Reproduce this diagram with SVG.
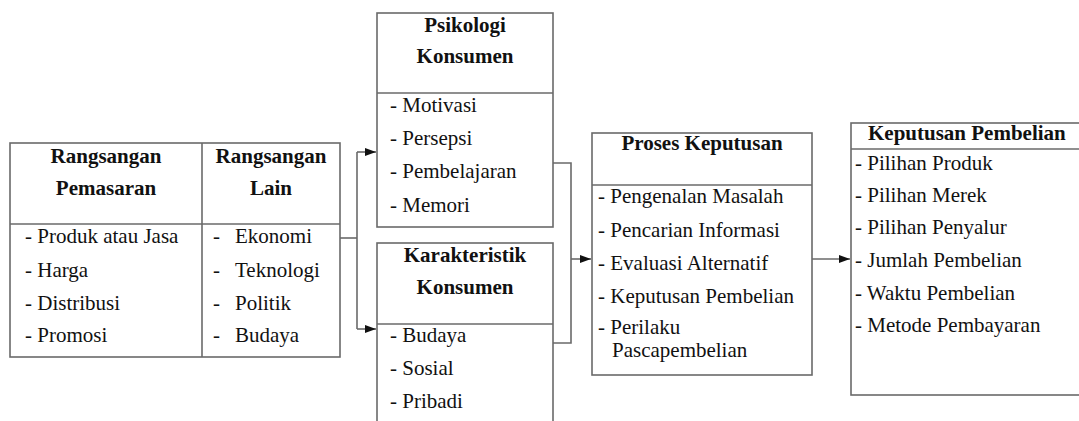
<svg xmlns="http://www.w3.org/2000/svg" width="1079" height="421" viewBox="0 0 1079 421">
<style>
.box{fill:#fff;stroke:#6a6a6a;stroke-width:1.6}
.ln{fill:none;stroke:#6a6a6a;stroke-width:1.6}
.t{font-family:"Liberation Serif","Times New Roman",serif;font-size:21px;fill:#111}
.b{font-weight:bold}
.c{text-anchor:middle}
</style>
<defs>
<marker id="arr" markerWidth="12" markerHeight="8" refX="11" refY="4" orient="auto" markerUnits="userSpaceOnUse">
<path d="M0,0 L11,4 L0,8 Z" fill="#111"/>
</marker>
</defs>
<rect width="1079" height="421" fill="#fff"/>
<g id="rangsangan">
<rect class="box" x="10" y="143" width="330" height="214"/>
<line class="ln" x1="202" y1="143" x2="202" y2="357"/>
<line class="ln" x1="10" y1="224" x2="340" y2="224"/>
<text class="t b c" x="106" y="163">Rangsangan</text>
<text class="t b c" x="106" y="195">Pemasaran</text>
<text class="t b c" x="271" y="163">Rangsangan</text>
<text class="t b c" x="271" y="195">Lain</text>
<text class="t" x="25" y="243">- Produk atau Jasa</text>
<text class="t" x="25" y="276.5">- Harga</text>
<text class="t" x="25" y="310">- Distribusi</text>
<text class="t" x="25" y="342">- Promosi</text>
<text class="t" y="243"><tspan x="213">-</tspan><tspan x="235">Ekonomi</tspan></text>
<text class="t" y="276.5"><tspan x="213">-</tspan><tspan x="235">Teknologi</tspan></text>
<text class="t" y="310"><tspan x="213">-</tspan><tspan x="235">Politik</tspan></text>
<text class="t" y="342"><tspan x="213">-</tspan><tspan x="235">Budaya</tspan></text>
</g>
<g id="psikologi">
<rect class="box" x="377" y="13" width="176" height="214"/>
<line class="ln" x1="377" y1="93" x2="553" y2="93"/>
<text class="t b c" x="465" y="32">Psikologi</text>
<text class="t b c" x="465" y="63">Konsumen</text>
<text class="t" x="390" y="112">- Motivasi</text>
<text class="t" x="390" y="145">- Persepsi</text>
<text class="t" x="390" y="178">- Pembelajaran</text>
<text class="t" x="390" y="212">- Memori</text>
</g>
<g id="karakteristik">
<rect class="box" x="377" y="243" width="176" height="200"/>
<line class="ln" x1="377" y1="324" x2="553" y2="324"/>
<text class="t b c" x="465" y="262">Karakteristik</text>
<text class="t b c" x="465" y="294">Konsumen</text>
<text class="t" x="390" y="342">- Budaya</text>
<text class="t" x="390" y="375">- Sosial</text>
<text class="t" x="390" y="408">- Pribadi</text>
</g>
<g id="proses">
<rect class="box" x="592" y="133" width="220" height="242"/>
<line class="ln" x1="592" y1="185" x2="812" y2="185"/>
<text class="t b c" x="702" y="150">Proses Keputusan</text>
<text class="t" x="598" y="203">- Pengenalan Masalah</text>
<text class="t" x="598" y="237">- Pencarian Informasi</text>
<text class="t" x="598" y="269.5">- Evaluasi Alternatif</text>
<text class="t" x="598" y="303">- Keputusan Pembelian</text>
<text class="t" x="598" y="333.5">- Perilaku</text>
<text class="t" x="612" y="357">Pascapembelian</text>
</g>
<g id="keputusan">
<rect class="box" x="851" y="123" width="240" height="272"/>
<line class="ln" x1="851" y1="149" x2="1091" y2="149"/>
<text class="t b" x="868" y="140">Keputusan Pembelian</text>
<text class="t" x="855" y="170">- Pilihan Produk</text>
<text class="t" x="855" y="202">- Pilihan Merek</text>
<text class="t" x="855" y="233.5">- Pilihan Penyalur</text>
<text class="t" x="855" y="267">- Jumlah Pembelian</text>
<text class="t" x="855" y="300">- Waktu Pembelian</text>
<text class="t" x="855" y="332">- Metode Pembayaran</text>
</g>
<g id="connectors">
<path class="ln" d="M340,238 H357"/>
<path class="ln" d="M357,152 V329"/>
<path class="ln" d="M357,152 H376" marker-end="url(#arr)"/>
<path class="ln" d="M357,329 H376" marker-end="url(#arr)"/>
<path class="ln" d="M553,163 H571 V343 H553"/>
<path class="ln" d="M571,259 H591" marker-end="url(#arr)"/>
<path class="ln" d="M812,259 H850" marker-end="url(#arr)"/>
</g>
</svg>
